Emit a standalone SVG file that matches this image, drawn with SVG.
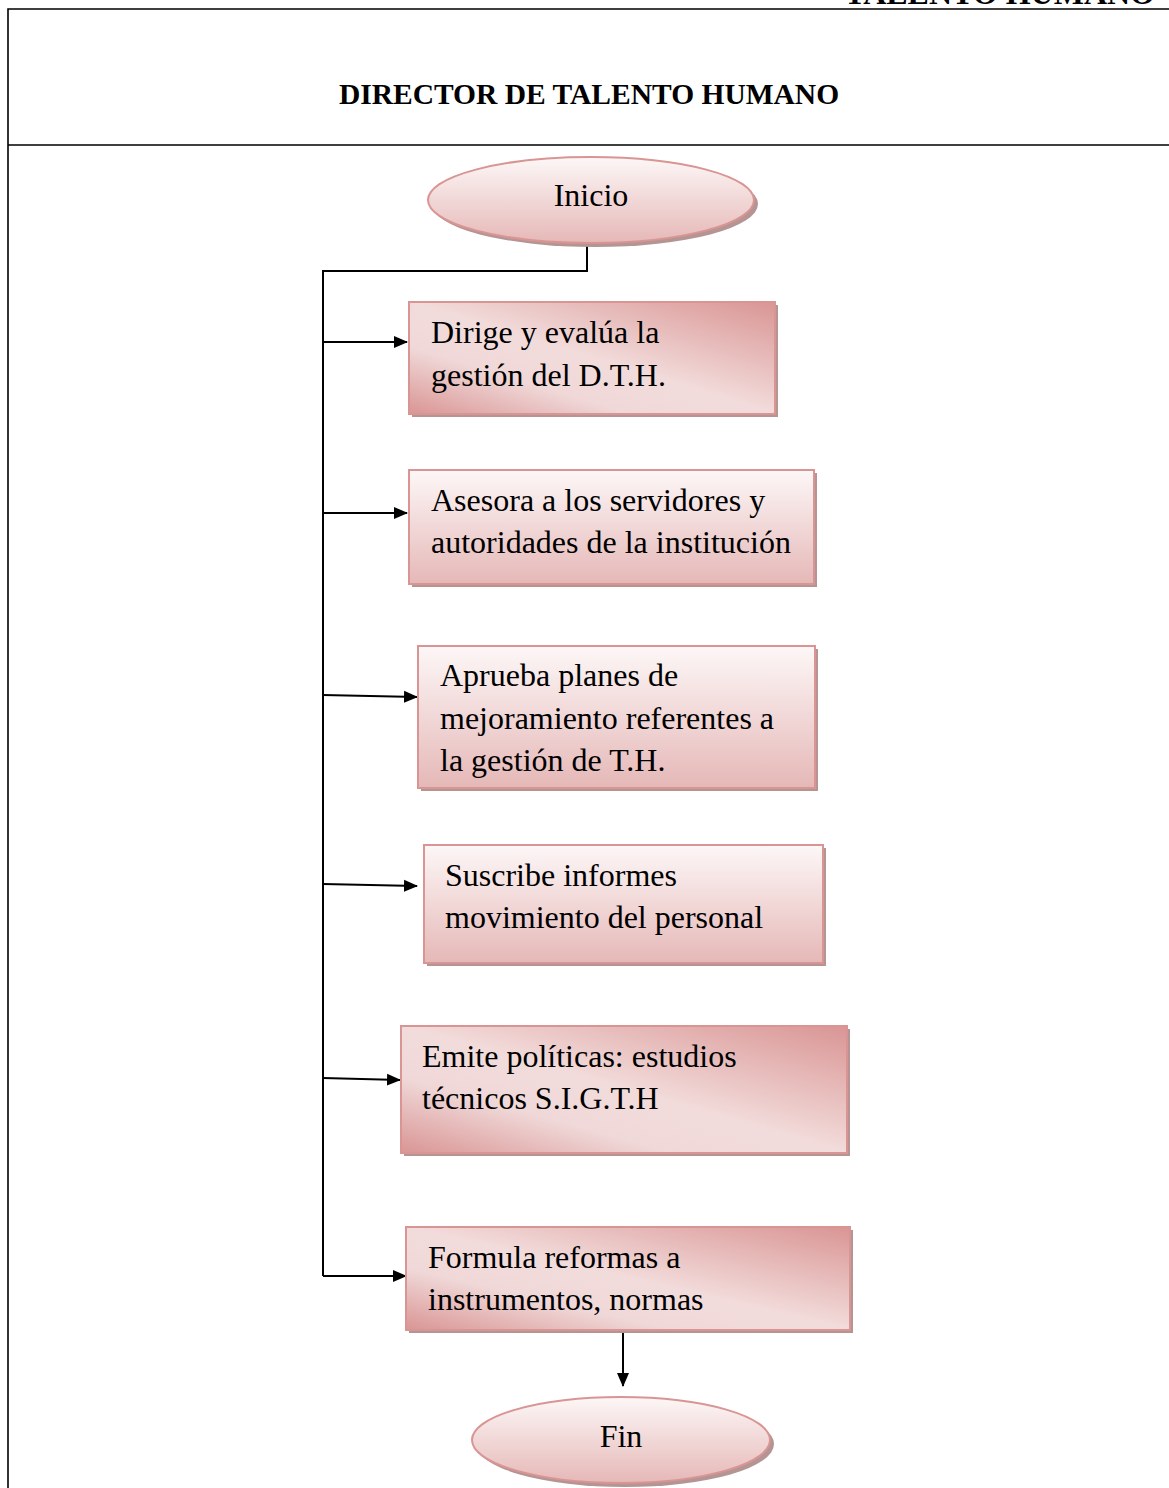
<svg xmlns="http://www.w3.org/2000/svg" width="1169" height="1488" viewBox="0 0 1169 1488">
<style>
.frame{stroke:#000;stroke-width:1.6;fill:none}
.title{font-family:"Liberation Serif","Times New Roman",serif;font-weight:bold;fill:#000}
.lbl{font-family:"Liberation Serif","Times New Roman",serif;font-size:32px;fill:#000}
.conn{stroke:#000;stroke-width:2;fill:none}
.box{stroke:#d99594;stroke-width:2}
.shadow{fill:#b59494}
</style>
<defs>
<linearGradient id="gDiag" x1="1" y1="0" x2="0" y2="1">
<stop offset="0" stop-color="#d99594"/>
<stop offset="0.5" stop-color="#f2dcdb"/>
<stop offset="0.7" stop-color="#f0d8d8"/>
<stop offset="1" stop-color="#d99594"/>
</linearGradient>
<linearGradient id="gVert" x1="0" y1="0" x2="0" y2="1">
<stop offset="0" stop-color="#fdf7f7"/>
<stop offset="1" stop-color="#e5b8b7"/>
</linearGradient>
<marker id="arr" markerWidth="14" markerHeight="14" refX="13" refY="7" orient="auto" markerUnits="userSpaceOnUse" viewBox="0 0 14 14">
<path d="M0,1 L14,7 L0,13 z" fill="#000"/>
</marker>
</defs>
<rect width="1169" height="1488" fill="#fff"/>
<g id="frame">
<path class="frame" d="M8,1488 V9 H1169 M8,145 H1169"/>
<text class="title" x="1155" y="4" font-size="32" text-anchor="end">TALENTO HUMANO</text>
<text class="title" x="589" y="104" font-size="29.5" text-anchor="middle">DIRECTOR DE TALENTO HUMANO</text>
</g>
<g id="connectors">
<path class="conn" d="M587,243 V271 H323 V1276"/>
<path class="conn" d="M323,342 H407" marker-end="url(#arr)"/>
<path class="conn" d="M323,513 H407" marker-end="url(#arr)"/>
<path class="conn" d="M323,695 L417,697" marker-end="url(#arr)"/>
<path class="conn" d="M323,884 L417,886" marker-end="url(#arr)"/>
<path class="conn" d="M323,1078 L400,1080" marker-end="url(#arr)"/>
<path class="conn" d="M323,1276 H406" marker-end="url(#arr)"/>
<path class="conn" d="M623,1331 V1386" marker-end="url(#arr)"/>
</g>
<g id="inicio">
<ellipse class="shadow" cx="595" cy="204" rx="163" ry="43"/>
<ellipse class="box" cx="591" cy="200" rx="163" ry="43" fill="url(#gVert)"/>
<text class="lbl" x="591" y="206" font-size="34" text-anchor="middle">Inicio</text>
</g>
<g id="n1">
<rect class="shadow" x="412" y="305" width="366" height="112"/>
<rect class="box" x="409" y="302" width="366" height="112" fill="url(#gDiag)"/>
<text class="lbl" x="431" y="343">Dirige y evalúa la</text>
<text class="lbl" x="431" y="386">gestión del D.T.H.</text>
</g>
<g id="n2">
<rect class="shadow" x="412" y="473" width="405" height="114"/>
<rect class="box" x="409" y="470" width="405" height="114" fill="url(#gVert)"/>
<text class="lbl" x="431" y="511">Asesora a los servidores y</text>
<text class="lbl" x="431" y="553">autoridades de la institución</text>
</g>
<g id="n3">
<rect class="shadow" x="421" y="649" width="397" height="142"/>
<rect class="box" x="418" y="646" width="397" height="142" fill="url(#gVert)"/>
<text class="lbl" x="440" y="686">Aprueba planes de</text>
<text class="lbl" x="440" y="729">mejoramiento referentes a</text>
<text class="lbl" x="440" y="771">la gestión de T.H.</text>
</g>
<g id="n4">
<rect class="shadow" x="427" y="848" width="399" height="118"/>
<rect class="box" x="424" y="845" width="399" height="118" fill="url(#gVert)"/>
<text class="lbl" x="445" y="886">Suscribe informes</text>
<text class="lbl" x="445" y="928">movimiento del personal</text>
</g>
<g id="n5">
<rect class="shadow" x="404" y="1029" width="446" height="127"/>
<rect class="box" x="401" y="1026" width="446" height="127" fill="url(#gDiag)"/>
<text class="lbl" x="422" y="1067">Emite políticas: estudios</text>
<text class="lbl" x="422" y="1109">técnicos S.I.G.T.H</text>
</g>
<g id="n6">
<rect class="shadow" x="409" y="1230" width="444" height="103"/>
<rect class="box" x="406" y="1227" width="444" height="103" fill="url(#gDiag)"/>
<text class="lbl" x="428" y="1268">Formula reformas a</text>
<text class="lbl" x="428" y="1310">instrumentos, normas</text>
</g>
<g id="fin">
<ellipse class="shadow" cx="625" cy="1444" rx="149" ry="43"/>
<ellipse class="box" cx="621" cy="1440" rx="149" ry="43" fill="url(#gVert)"/>
<text class="lbl" x="621" y="1447" font-size="34" text-anchor="middle">Fin</text>
</g>
</svg>
